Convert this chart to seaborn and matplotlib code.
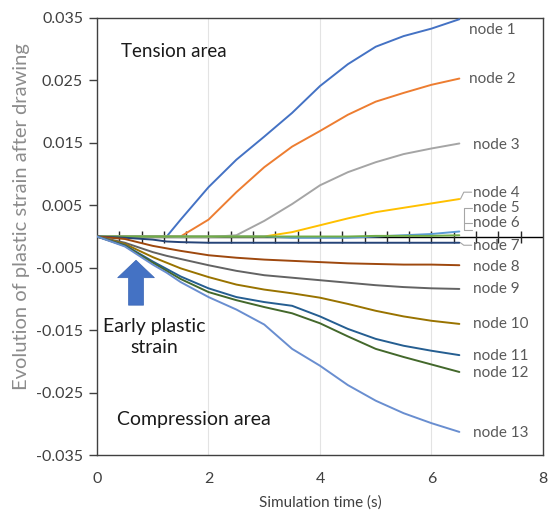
import numpy as np
import pandas as pd
import seaborn as sns
import matplotlib.pyplot as plt

# simulation time (s)
time_s = [0, 0.5, 1.0, 1.25, 1.5, 2.0, 2.5, 3.0, 3.5, 4.0, 4.5, 5.0, 5.5, 6.0, 6.5]

node_1 = [0, 0, 0, 0, 0.0027, 0.0079, 0.0123, 0.0160, 0.0198, 0.0241, 0.0276, 0.0304, 0.0321, 0.0333, 0.0348]
node_2 = [0, 0, 0, 0, 0, 0.0027, 0.0071, 0.0111, 0.0144, 0.0169, 0.0195, 0.0216, 0.0230, 0.0243, 0.0253]
node_3 = [0, 0, 0, 0, -0.0001, -0.0001, 0.0002, 0.0025, 0.0052, 0.0082, 0.0103, 0.0119, 0.0132, 0.0141, 0.0149]
node_4 = [0, 0, 0, 0, 0, 0, 0, 0, 0.0007, 0.0018, 0.0029, 0.0039, 0.0046, 0.0053, 0.0060]
node_5 = [0, 0, 0, 0, 0, 0, 0, 0, -0.0002, -0.0002, -0.0002, 0, 0.0002, 0.0004, 0.0008]
node_6 = [0, 0, 0, 0, 0, 0, 0, 0, 0, 0, 0, 0.0001, 0.0001, 0.0001, 0.0002]
node_7 = [0, -0.0002, -0.0005, -0.0008, -0.0009, -0.0010, -0.0010, -0.0010, -0.0010, -0.0010, -0.0010, -0.0010, -0.0010, -0.0010, -0.0010]
node_8 = [0, -0.0004, -0.0015, -0.0019, -0.0023, -0.0030, -0.0034, -0.0037, -0.0039, -0.0041, -0.0043, -0.0044, -0.0045, -0.0045, -0.0046]
node_9 = [0, -0.0010, -0.0025, -0.0031, -0.0036, -0.0046, -0.0055, -0.0062, -0.0066, -0.0070, -0.0074, -0.0078, -0.0081, -0.0083, -0.0084]
node_10 = [0, -0.0012, -0.0033, -0.0042, -0.0051, -0.0065, -0.0077, -0.0085, -0.0091, -0.0098, -0.0108, -0.0119, -0.0128, -0.0135, -0.0140]
node_11 = [0, -0.0014, -0.0040, -0.0052, -0.0064, -0.0083, -0.0097, -0.0105, -0.0111, -0.0128, -0.0148, -0.0164, -0.0175, -0.0183, -0.0190]
node_12 = [0, -0.0015, -0.0042, -0.0055, -0.0068, -0.0089, -0.0102, -0.0113, -0.0123, -0.0139, -0.0160, -0.0180, -0.0193, -0.0205, -0.0217]
node_13 = [0, -0.0016, -0.0045, -0.0058, -0.0073, -0.0097, -0.0117, -0.0141, -0.0180, -0.0207, -0.0238, -0.0263, -0.0283, -0.0299, -0.0313]

nodes = [node_1, node_2, node_3, node_4, node_5, node_6, node_7,
         node_8, node_9, node_10, node_11, node_12, node_13]
node_names = [f"node {i}" for i in range(1, 14)]

# where each label sits (strain value of the text centre)
label_y = [0.0331, 0.0252, 0.0147, 0.0070, 0.0045, 0.0021, -0.0016,
           -0.0049, -0.0084, -0.0140, -0.0191, -0.0218, -0.0315]
label_x = [6.67, 6.67, 6.75, 6.75, 6.75, 6.75, 6.75,
           6.75, 6.75, 6.75, 6.75, 6.75, 6.75]

excel_colors = ["#4472C4", "#ED7D31", "#A5A5A5", "#FFC000", "#5B9BD5", "#70AD47",
                "#264478", "#9E480E", "#636363", "#997300", "#255E91", "#43682B", "#698ED0"]

rows = []
for name, vals in zip(node_names, nodes):
    for t, v in zip(time_s, vals):
        rows.append({"time": t, "strain": v, "node": name})
df = pd.DataFrame(rows)

sns.set_theme(style="white")
plt.rcParams['font.family'] = ['Lato', 'DejaVu Sans']

fig = plt.figure(figsize=(5.49, 5.17), dpi=100)
ax = fig.add_axes([0.1767, 0.1199, 0.8123, 0.8453])

# faint vertical gridlines
for gx in [2, 4, 6]:
    ax.axvline(gx, color="#E3E3E3", lw=0.8, zorder=0)

# zero axis with crossing ticks
ax.axhline(0, color="black", lw=1.0, zorder=1)
tick_pos = np.arange(0.4, 8.0, 0.4)
ax.plot(tick_pos, np.zeros_like(tick_pos), linestyle="none", marker="|",
        markersize=8, markeredgewidth=1.0, color="#262626", zorder=1)

sns.lineplot(data=df, x="time", y="strain", hue="node", palette=excel_colors,
             linewidth=1.4, legend=False, ax=ax, zorder=3)

# series labels
for name, lx, ly in zip(node_names, label_x, label_y):
    ax.text(lx, ly, name, fontsize=11, color="#595959", va="center", ha="left")

# leader lines for the crowded labels near zero
lead = dict(color="#A6A6A6", lw=0.8)
ax.plot([6.52, 6.58, 6.72], [0.0060, 0.0071, 0.0071], **lead)
ax.plot([6.72, 6.58, 6.58, 6.72], [0.0045, 0.0045, 0.0010, 0.0010], **lead)
ax.plot([6.58, 6.72], [0.0021, 0.0021], **lead)
ax.plot([6.52, 6.58, 6.72], [-0.0010, -0.0014, -0.0014], **lead)

# annotations
ax.text(0.43, 0.0297, "Tension area", fontsize=13.5, color="#1a1a1a", va="center")
ax.text(0.36, -0.0293, "Compression area", fontsize=14, color="#1a1a1a", va="center")
ax.text(1.02, -0.0161, "Early plastic\nstrain", fontsize=14, color="#1a1a1a",
        ha="center", va="center", linespacing=1.35)
ax.arrow(0.7, -0.0110, 0, 0.0072, width=0.27, head_width=0.66,
         head_length=0.0028, length_includes_head=True,
         facecolor="#4472C4", edgecolor="#3A66B5", lw=0.5, zorder=4)

ax.set_xlim(0, 8)
ax.set_ylim(-0.035, 0.035)
ax.set_xticks([0, 2, 4, 6, 8])
ax.set_yticks(np.arange(-0.035, 0.0351, 0.01))
ax.set_yticklabels([f"{v:.3f}" for v in np.arange(-0.035, 0.0351, 0.01)])
ax.tick_params(axis="y", left=True, length=6, width=1, color="#404040",
               labelsize=11.5, labelcolor="#404040", pad=4)
ax.tick_params(axis="x", bottom=False, labelsize=11.5, labelcolor="#404040", pad=6)

for s in ax.spines.values():
    s.set_color("#404040")
    s.set_linewidth(1.0)

ax.set_xlabel("Simulation time (s)", fontsize=11, color="#404040", labelpad=7)
ax.set_ylabel("Evolution of plastic strain after drawing", fontsize=14.5,
              color="#8C8C8C")
ax.yaxis.set_label_coords(-0.15, 0.545)

fig.savefig("out.png", dpi=100)
